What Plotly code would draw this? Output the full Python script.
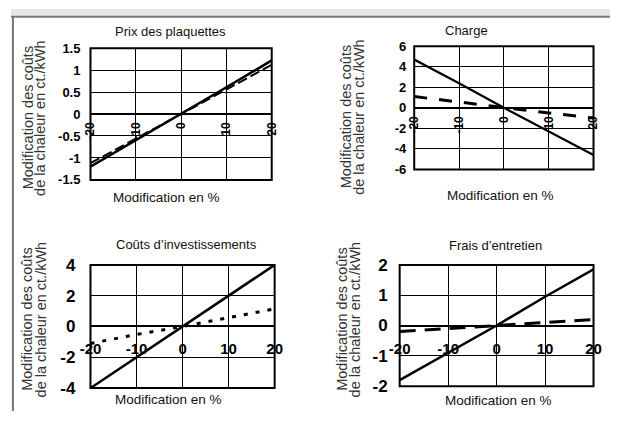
import plotly.graph_objects as go

W, H = 618, 421

# ---- data ----
pct = [-20, -10, 0, 10, 20]
x_ticks = [-20, -10, 0, 10, 20]
x_ticktext = ["-20", "-10", "0", "10", "20"]

prix_solid = [-1.2, -0.6, 0, 0.61, 1.22]
prix_dash = [-1.12, -0.56, 0, 0.56, 1.12]
prix_yticks = [-1.5, -1, -0.5, 0, 0.5, 1, 1.5]
prix_yticktext = ["-1.5", "-1", "-0.5", "0", "0.5", "1", "1.5"]

charge_solid = [4.7, 2.4, 0, -2.3, -4.6]
charge_dash = [1.1, 0.55, 0, -0.5, -1.0]
charge_yticks = [-6, -4, -2, 0, 2, 4, 6]
charge_yticktext = ["-6", "-4", "-2", "0", "2", "4", "6"]

invest_solid = [-4, -2, 0, 2, 4]
invest_dot = [-1.1, -0.52, 0, 0.58, 1.15]
invest_yticks = [-4, -2, 0, 2, 4]
invest_yticktext = ["-4", "-2", "0", "2", "4"]

entretien_solid = [-1.8, -0.9, 0, 0.95, 1.85]
entretien_dash = [-0.2, -0.1, 0, 0.1, 0.2]
entretien_yticks = [-2, -1, 0, 1, 2]
entretien_yticktext = ["-2", "-1", "0", "1", "2"]

titles = ["Prix des plaquettes", "Charge", "Coûts d’investissements", "Frais d’entretien"]
xtitle = "Modification en %"
ytitle1 = "Modification des coûts"
ytitle2 = "de la chaleur en ct./kWh"

FONT = "Liberation Sans, Arial, sans-serif"

# ---- layout geometry (pixels) ----
panels = [
    dict(box=(82, 269, 41, 179), yr=(-1.5, 1.5), yt=prix_yticks, ytt=prix_yticktext,
         series=[(prix_solid, "solid", 2.5), (prix_dash, "10px,4px", 2)],
         title=(165, 24), xt=(160, 197), yttl=(17, 30, 114),
         xangle=-90, xstand=5, xsize=12, ysize=13, ystand=9),
    dict(box=(416, 601, 39, 168), yr=(-6, 6), yt=charge_yticks, ytt=charge_yticktext,
         series=[(charge_solid, "solid", 2.2), (charge_dash, "13px,12px", 3)],
         title=(470, 22), xt=(505, 195), yttl=(346, 359, 113),
         xangle=-90, xstand=5, xsize=12, ysize=13, ystand=7),
    dict(box=(82, 272, 268, 397), yr=(-4, 4), yt=invest_yticks, ytt=invest_yticktext,
         series=[(invest_solid, "solid", 2.5), (invest_dot, "4px,8px", 3)],
         title=(181, 247), xt=(162, 409), yttl=(17, 31, 325),
         xangle=0, xstand=12, xsize=15, ysize=17, ystand=14),
    dict(box=(401, 601, 268, 395), yr=(-2, 2), yt=entretien_yticks, ytt=entretien_yticktext,
         series=[(entretien_solid, "solid", 2.5), (entretien_dash, "16px,9px", 3)],
         title=(500, 248), xt=(503, 410), yttl=(342, 355, 325),
         xangle=0, xstand=12, xsize=15, ysize=17, ystand=11),
]

fig = go.Figure()
annotations = []
shapes = []

for i, p in enumerate(panels, start=1):
    x0, x1, y0, y1 = p["box"]
    xd = [x0 / W, x1 / W]
    yd = [1 - y1 / H, 1 - y0 / H]
    ymin, ymax = p["yr"]
    zero_frac = yd[0] + (0 - ymin) / (ymax - ymin) * (yd[1] - yd[0])
    xa = "x" if i == 1 else f"x{i}"
    ya = "y" if i == 1 else f"y{i}"
    for vals, dash, width in p["series"]:
        fig.add_trace(go.Scatter(x=pct, y=vals, mode="lines", xaxis=xa, yaxis=ya,
                                 line=dict(color="black", width=width, dash=dash),
                                 showlegend=False, hoverinfo="skip"))
    fig.update_layout(**{
        f"xaxis{'' if i == 1 else i}": dict(
            domain=xd, anchor="free", position=zero_frac, range=[-20, 20],
            tickmode="array", tickvals=x_ticks, ticktext=x_ticktext,
            tickangle=p["xangle"], ticks="", ticklabelstandoff=p["xstand"],
            tickfont=dict(family=FONT, size=p["xsize"], color="black", weight="bold"),
            showgrid=True, gridcolor="black", gridwidth=1, zeroline=False,
            showline=False, fixedrange=True),
        f"yaxis{'' if i == 1 else i}": dict(
            domain=yd, anchor=xa, range=[ymin, ymax],
            tickmode="array", tickvals=p["yt"], ticktext=p["ytt"],
            ticks="", ticklabelstandoff=p["ystand"],
            tickfont=dict(family=FONT, size=p["ysize"], color="black", weight="bold"),
            showgrid=True, gridcolor="black", gridwidth=1,
            zeroline=True, zerolinecolor="black", zerolinewidth=1.5,
            showline=False, fixedrange=True),
    })
    # plot border
    shapes.append(dict(type="rect", xref=f"{xa} domain", yref=f"{ya} domain",
                       x0=0, x1=1, y0=0, y1=1, line=dict(color="black", width=2)))
    tx, ty = p["title"]
    annotations.append(dict(text=titles[i - 1], x=tx / W, y=1 - ty / H, xref="paper", yref="paper",
                            showarrow=False, xanchor="center", yanchor="middle",
                            font=dict(family=FONT, size=13, color="#111")))
    xx, xy = p["xt"]
    annotations.append(dict(text=xtitle, x=xx / W, y=1 - xy / H, xref="paper", yref="paper",
                            showarrow=False, xanchor="center", yanchor="middle",
                            font=dict(family=FONT, size=13.5, color="#111")))
    l1, l2, yc = p["yttl"]
    for lx, txt in ((l1, ytitle1), (l2, ytitle2)):
        annotations.append(dict(text=txt, x=lx / W, y=1 - yc / H, xref="paper", yref="paper",
                                showarrow=False, textangle=-90, xanchor="center", yanchor="middle",
                                font=dict(family=FONT, size=14.5, color="#333")))

# scan frame: grey header band and left border
shapes.append(dict(type="rect", xref="paper", yref="paper", x0=0, x1=1, y0=1 - 7.5 / H, y1=1,
                   fillcolor="#e6e6e6", line=dict(width=0), layer="below"))
shapes.append(dict(type="line", xref="paper", yref="paper", x0=0, x1=1, y0=1 - 8 / H, y1=1 - 8 / H,
                   line=dict(color="#777", width=2)))
shapes.append(dict(type="line", xref="paper", yref="paper", x0=2 / W, x1=2 / W, y0=0, y1=1 - 8 / H,
                   line=dict(color="#777", width=2)))

fig.update_layout(width=W, height=H, margin=dict(l=0, r=0, t=0, b=0),
                  paper_bgcolor="white", plot_bgcolor="white",
                  annotations=annotations, shapes=shapes, showlegend=False,
                  font=dict(family=FONT))

fig.write_html("out.html", config={"displayModeBar": False},
               post_script="document.body.style.margin='0';document.body.style.overflow='hidden';")
